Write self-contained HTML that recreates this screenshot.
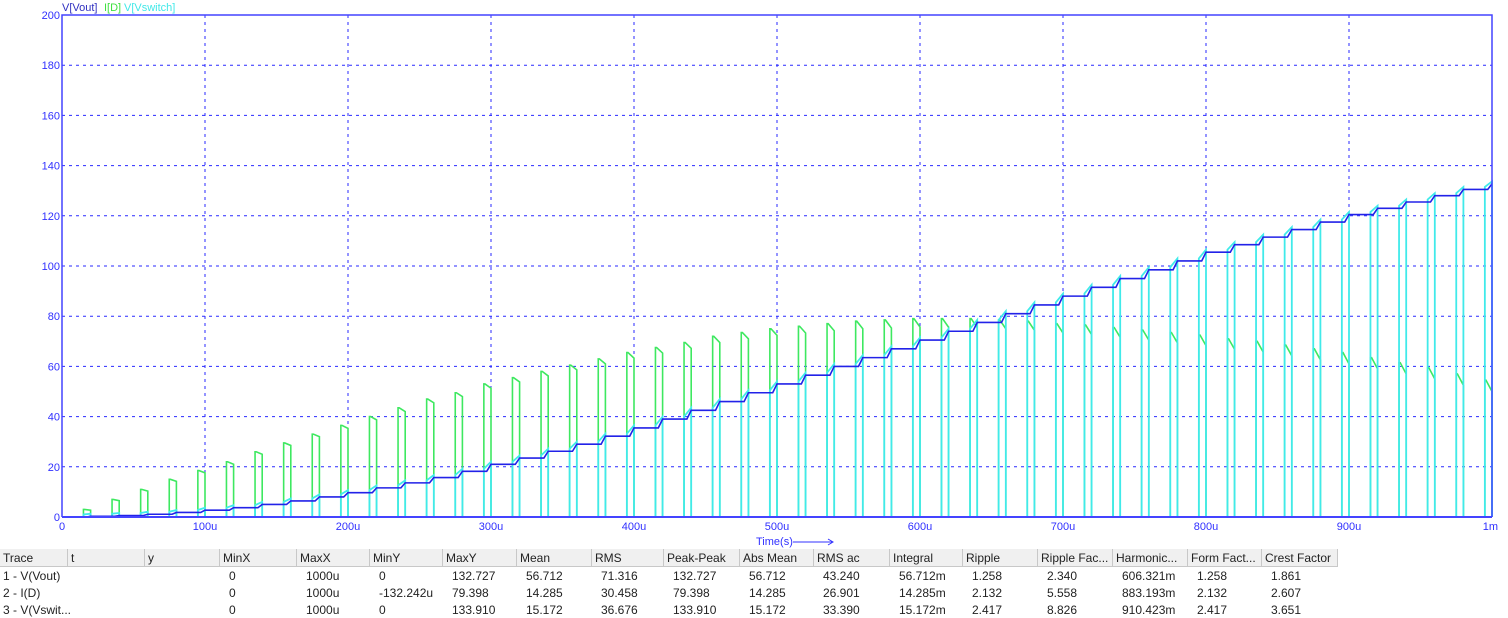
<!DOCTYPE html>
<html><head><meta charset="utf-8">
<style>
body{margin:0;background:#fff;width:1508px;height:617px;overflow:hidden;font-family:"Liberation Sans",sans-serif;}
#tbl{position:absolute;left:0;top:549px;width:1508px;height:68px;font-size:12px;color:#222;}
.hdr{position:absolute;top:0;height:18px;line-height:18px;background:#f0f0f0;border-right:1px solid #c8c8c8;border-bottom:1px solid #c8c8c8;box-sizing:border-box;padding-left:3px;}
.cell{position:absolute;height:16px;line-height:16px;padding-left:3px;white-space:nowrap;}
</style></head><body>
<svg id="chart" width="1508" height="548" style="position:absolute;left:0;top:0" font-family="Liberation Sans, sans-serif">
<g id="grid"></g>
<g id="traces"></g>
<g id="axes"></g>
<text x="62" y="11" font-size="11" fill="#3030c0">V[Vout]</text>
<text x="104" y="11" font-size="11" fill="#40e040">I[D]</text>
<text x="124" y="11" font-size="11" fill="#40e8e8">V[Vswitch]</text>
<text x="756" y="545" font-size="11" fill="#3030ff">Time(s)</text>
<line x1="793" y1="542" x2="832" y2="542" stroke="#3030ff" stroke-width="1"/>
<path d="M828,539 L833,542 L828,545" fill="none" stroke="#3030ff"/>
</svg>
<div id="tbl"></div>
<script>
const NS="http://www.w3.org/2000/svg";
const xTicks=[0,100,200,300,400,500,600,700,800,900,1000];
const xTickLabels=["0","100u","200u","300u","400u","500u","600u","700u","800u","900u","1m"];
const yTicks=[0,20,40,60,80,100,120,140,160,180,200];
const periodEnds=[20,40,60,80,100,120,140,160,180,200,220,240,260,280,300,320,340,360,380,400,420,440,460,480,500,520,540,560,580,600,620,640,660,680,700,720,740,760,780,800,820,840,860,880,900,920,940,960,980,1000];
const voutSteps=[0.3,0.6,1.1,1.8,2.7,3.7,5,6.4,8,9.7,11.6,13.6,15.7,18.2,21,23.5,26.2,29,32.2,35.5,39,42.5,46,49.5,53,56.5,60,63.5,67,70.5,74,77.5,81,84.5,88,91.5,95,98.5,102,105.5,108.5,111.5,114.5,117.5,120.5,123,125.5,128,130.5,132.7];
const idPeaks=[3,7,11,15,18.5,22,26,29.5,33,36.5,40,43.5,47,49.5,53,55.5,58,60.5,63,65.5,67.5,69.5,72,73.5,75,76,77,78,78.5,79,79,79,78.5,78,77,76.5,75.5,74.5,73.5,72.5,71,70,68.5,67,65.5,63.5,61.5,59.5,57,54.5];
const idEnds=[2.7,6.5,10.3,14.2,17.6,21,25,28.5,32,35.3,38.7,42,45.5,48,51.3,53.8,56.2,58.6,61,63.3,65.3,67.2,69.5,71,72.4,73.3,74.2,75,75.3,75.7,75.6,75.5,75,74.4,73.3,72.7,71.6,70.5,69.4,68.3,66.8,65.7,64.2,62.6,61,59,57,55,52.5,50];
const pulseWidth=5;
const X0=62,X1=1492,Y0=517,Y1=15;
const sx=t=>X0+(t/1000)*(X1-X0);
const sy=v=>Y0-(v/200)*(Y0-Y1);
function mk(tag,attrs,parent){const e=document.createElementNS(NS,tag);for(const k in attrs)e.setAttribute(k,attrs[k]);parent.appendChild(e);return e;}
const grid=document.getElementById('grid'),axes=document.getElementById('axes'),traces=document.getElementById('traces');
xTicks.forEach((t,i)=>{
  if(i>0&&i<xTicks.length-1){const l=mk('line',{x1:sx(t),x2:sx(t),y1:Y1,y2:Y0,stroke:'#2a2aff','stroke-width':1,'stroke-dasharray':'3,4'},grid);
  
  }
  const tx=mk('text',{x:sx(t),y:530,'font-size':11,fill:'#3030ff','text-anchor':i===xTicks.length-1?'end':'middle'},axes);
  if(i===xTicks.length-1)tx.setAttribute('x',sx(t)+6);
  tx.textContent=xTickLabels[i];
  
  
});
yTicks.forEach((v,i)=>{
  if(i>0&&i<yTicks.length-1){const l=mk('line',{x1:X0,x2:X1,y1:sy(v),y2:sy(v),stroke:'#2a2aff','stroke-width':1,'stroke-dasharray':'3,4'},grid);
  
  }
  const tx=mk('text',{x:60,y:sy(v)+4,'font-size':11,fill:'#3030ff','text-anchor':'end'},axes);
  tx.textContent=String(v);
  
  
});
const frame=mk('path',{d:`M${X0},${Y0}V${Y1}H${X1}V${Y0}`,fill:'none',stroke:'#4444ff','stroke-width':1.5},axes);


// traces
let g='M'+sx(0)+','+sy(0),c='M'+sx(0)+','+sy(0),b='M'+sx(0)+','+sy(0);
let prev=0;
periodEnds.forEach((te,k)=>{
  const ts=te-pulseWidth;
  g+=` L${sx(ts)},${sy(0)} L${sx(ts)},${sy(idPeaks[k])} L${sx(ts+0.8)},${sy(idPeaks[k])} L${sx(te)},${sy(idEnds[k])} L${sx(te)},${sy(0)}`;
  c+=` L${sx(ts)},${sy(0)} L${sx(ts)},${sy(prev+1)} L${sx(te)},${sy(voutSteps[k]+1)} L${sx(te)},${sy(0)}`;
  b+=` L${sx(te-pulseWidth*0.6)},${sy(prev)} L${sx(te)},${sy(voutSteps[k])}`;
  prev=voutSteps[k];
});
const gp=mk('path',{d:g,fill:'none',stroke:'#3ee860','stroke-width':1.6},traces);


const cp=mk('path',{d:c,fill:'none',stroke:'#40eaea','stroke-width':1.8},traces);


const bp=mk('path',{d:b,fill:'none',stroke:'#2222e8','stroke-width':1.6},traces);


const bl=mk('line',{x1:X0,x2:X1,y1:Y0,y2:Y0,stroke:'#4444ff','stroke-width':2},traces);


// table
const colLeft=[0,68,145,220,297,370,443,517,592,664,740,814,890,963,1038,1113,1188,1262];
const colRight=1338;
const headers=["Trace","t","y","MinX","MaxX","MinY","MaxY","Mean","RMS","Peak-Peak","Abs Mean","RMS ac","Integral","Ripple","Ripple Fac...","Harmonic...","Form Fact...","Crest Factor"];
const rows=[
["1 - V(Vout)","","","0","1000u","0","132.727","56.712","71.316","132.727","56.712","43.240","56.712m","1.258","2.340","606.321m","1.258","1.861"],
["2 - I(D)","","","0","1000u","-132.242u","79.398","14.285","30.458","79.398","14.285","26.901","14.285m","2.132","5.558","883.193m","2.132","2.607"],
["3 - V(Vswit...","","","0","1000u","0","133.910","15.172","36.676","133.910","15.172","33.390","15.172m","2.417","8.826","910.423m","2.417","3.651"]];
const tbl=document.getElementById('tbl');
headers.forEach((h,i)=>{
  const d=document.createElement('div');d.className='hdr';
  d.style.left=colLeft[i]+'px';d.style.width=((i<colLeft.length-1?colLeft[i+1]:colRight)-colLeft[i])+'px';
  d.textContent=h;
  
  
  tbl.appendChild(d);
});
rows.forEach((r,ri)=>{r.forEach((v,i)=>{
  if(!v)return;
  const d=document.createElement('div');d.className='cell';
  d.style.left=(colLeft[i]+(i>0?6:0))+'px';d.style.top=(19+ri*17)+'px';
  d.textContent=v;
  
  
  tbl.appendChild(d);
});});
</script>
</body></html>
